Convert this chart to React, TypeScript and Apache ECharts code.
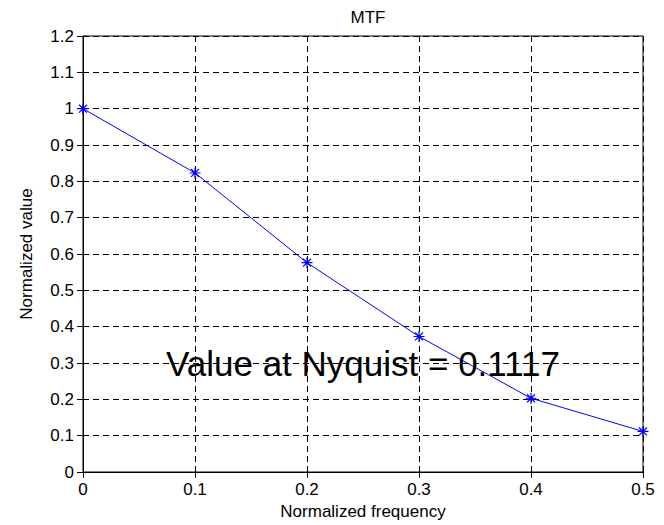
import React, { useEffect, useRef } from "react";
import * as echarts from "echarts";

// Normalized frequency samples and the MTF measured at each of them
const frequencies = [0, 0.1, 0.2, 0.3, 0.4, 0.5];
const mtfValues = [1.0, 0.823, 0.576, 0.373, 0.203, 0.1117];
const nyquistValue = mtfValues[mtfValues.length - 1];

const FONT = "'Liberation Sans', Arial, Helvetica, sans-serif";
const ASTERISK =
  "path://M0,-5L0,5M-5,0L5,0M-3.6,-3.6L3.6,3.6M-3.6,3.6L3.6,-3.6";

export default function App() {
  const ref = useRef<HTMLDivElement>(null);

  useEffect(() => {
    if (!ref.current) return;
    const chart = echarts.init(ref.current, null, { renderer: "svg" });

    const gridLeft = 83;
    const gridTop = 36;
    const gridRight = 21;
    const gridBottom = 52;

    const baseAxisLabel = { color: "#000", fontFamily: FONT, fontSize: 17 };
    const dashed = {
      show: true,
      lineStyle: { color: "#000", width: 1, type: [6, 4] as number[] },
    };
    const ticksIn = {
      show: true,
      inside: true,
      length: 6,
      lineStyle: { color: "#000", width: 1 },
    };
    const solidLine = { show: true, lineStyle: { color: "#000", width: 1 } };

    chart.setOption({
      animation: false,
      backgroundColor: "#fff",
      title: {
        text: "MTF",
        left: gridLeft + (664 - gridLeft - gridRight) / 2,
        top: 4,
        textAlign: "center",
        textStyle: {
          color: "#000",
          fontFamily: FONT,
          fontWeight: "normal",
          fontSize: 17,
        },
      },
      grid: {
        left: gridLeft,
        right: gridRight,
        top: gridTop,
        bottom: gridBottom,
        show: true,
        borderColor: "#000",
        borderWidth: 1,
        backgroundColor: "#fff",
      },
      xAxis: [
        {
          type: "value",
          min: 0,
          max: 0.5,
          interval: 0.1,
          position: "bottom",
          name: "Normalized frequency",
          nameLocation: "middle",
          nameGap: 31,
          nameTextStyle: { color: "#000", fontFamily: FONT, fontSize: 17 },
          axisLine: solidLine,
          axisTick: ticksIn,
          axisLabel: { ...baseAxisLabel, margin: 9 },
          splitLine: dashed,
        },
        {
          type: "value",
          min: 0,
          max: 0.5,
          interval: 0.1,
          position: "top",
          axisLine: solidLine,
          axisTick: ticksIn,
          axisLabel: { show: false },
          splitLine: { show: false },
        },
      ],
      yAxis: [
        {
          type: "value",
          min: 0,
          max: 1.2,
          interval: 0.1,
          position: "left",
          name: "Normalized value",
          nameLocation: "middle",
          nameGap: 48,
          nameTextStyle: { color: "#000", fontFamily: FONT, fontSize: 17 },
          axisLine: solidLine,
          axisTick: ticksIn,
          axisLabel: { ...baseAxisLabel, margin: 9 },
          splitLine: dashed,
        },
        {
          type: "value",
          min: 0,
          max: 1.2,
          interval: 0.1,
          position: "right",
          axisLine: solidLine,
          axisTick: ticksIn,
          axisLabel: { show: false },
          splitLine: { show: false },
        },
      ],
      series: [
        {
          type: "line",
          data: frequencies.map((f, i) => [f, mtfValues[i]]),
          lineStyle: { color: "#0000ff", width: 1 },
          symbol: ASTERISK,
          symbolSize: 11,
          itemStyle: {
            color: "rgba(0,0,0,0)",
            borderColor: "#0000ff",
            borderWidth: 1.2,
          },
          z: 5,
        },
      ],
      graphic: [
        {
          type: "text",
          left: 166,
          top: 346,
          z: 10,
          style: {
            text: `Value at Nyquist = ${nyquistValue.toFixed(4)}`,
            fill: "#000",
            font: `35px ${FONT}`,
          },
        },
      ],
    });

    return () => chart.dispose();
  }, []);

  return (
    <div
      ref={ref}
      style={{ position: "fixed", left: 0, top: 0, width: 664, height: 525 }}
    />
  );
}
